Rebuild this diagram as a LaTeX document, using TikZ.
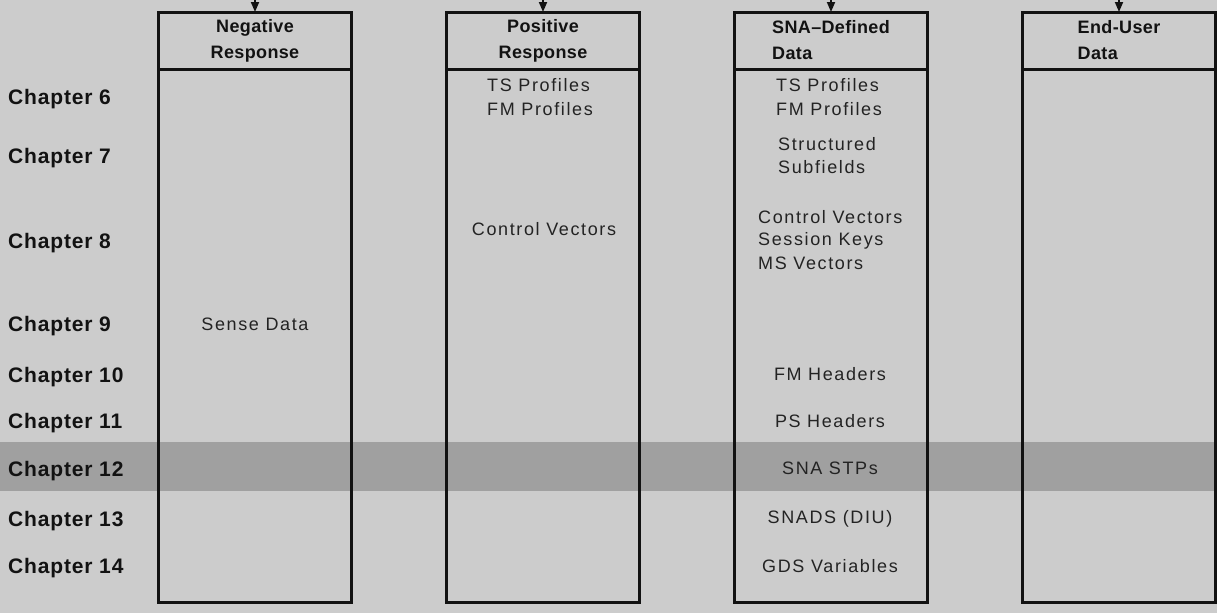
\documentclass[tikz,border=0pt]{standalone}
\usepackage{fontspec}
\setmainfont{Liberation Sans}[LetterSpace=2]
\newfontfamily\chapfont{Liberation Sans}[LetterSpace=4]
\newfontfamily\itemfont{Liberation Sans}[LetterSpace=9]
\usepackage{tikz}
\usetikzlibrary{arrows.meta, positioning}
\definecolor{paper}{RGB}{204,204,204}
\definecolor{band}{RGB}{160,160,160}
\definecolor{ink}{RGB}{18,18,18}
\definecolor{inkitem}{RGB}{35,35,35}
\tikzset{
  hdrbox/.style    = {draw=ink, line width=3pt, outer sep=0pt, inner sep=0pt,
                      minimum width=193pt, minimum height=57pt, align=center,
                      text=ink, font=\bfseries\fontsize{18}{26}\selectfont},
  bodybox/.style   = {draw=ink, line width=3pt, outer sep=0pt,
                      minimum width=193pt, minimum height=533pt},
  chaplabel/.style = {anchor=base west, inner sep=0pt, text=ink,
                      font=\chapfont\bfseries\fontsize{21}{25}\selectfont},
  itemtext/.style  = {anchor=base, inner sep=0pt, text=inkitem,
                      font=\itemfont\fontsize{18}{24}\selectfont},
  itemleft/.style  = {itemtext, anchor=base west},
  feed/.style      = {-{Triangle[width=8pt,length=10pt]}, line width=1.8pt, draw=ink},
}

\begin{document}
\begin{tikzpicture}[x=1pt, y=-1pt]
    \useasboundingbox (0,0) rectangle (1217,613);
    \fill[paper] (0,0) rectangle (1217,613);
    \fill[band] (0,442) rectangle (1217,491);
    % column heads
    \node[hdrbox, anchor=north] (negH) at (255,12) {Negative\\Response};
    \node[hdrbox, right=95pt of negH] (posH) {Positive\\Response};
    \node[hdrbox, right=95pt of posH, align=left] (snaH) {SNA--Defined\\Data};
    \node[hdrbox, right=95pt of snaH, align=left] (usrH) {End-User\\Data};
    % column bodies
    \node[bodybox, below=0pt of negH] (negB) {};
    \node[bodybox, below=0pt of posH] (posB) {};
    \node[bodybox, below=0pt of snaH] (snaB) {};
    \node[bodybox, below=0pt of usrH] (usrB) {};
    % feeds from above
    \coordinate (top) at (0,0);
    \coordinate (negIn) at (negH.north |- top);
    \coordinate (posIn) at (posH.north |- top);
    \coordinate (snaIn) at (snaH.north |- top);
    \coordinate (usrIn) at (usrH.north |- top);
    \draw[feed] (negIn) -- (negH.north);
    \draw[feed] (posIn) -- (posH.north);
    \draw[feed] (snaIn) -- (snaH.north);
    \draw[feed] (usrIn) -- (usrH.north);
    % chapters
    \node[chaplabel] (ch6) at (8,104) {Chapter 6};
    \node[chaplabel] (ch7) at (8,163) {Chapter 7};
    \node[chaplabel] (ch8) at (8,248) {Chapter 8};
    \node[chaplabel] (ch9) at (8,331) {Chapter 9};
    \node[chaplabel] (ch10) at (8,382) {Chapter 10};
    \node[chaplabel] (ch11) at (8,428) {Chapter 11};
    \node[chaplabel] (ch12) at (8,476) {Chapter 12};
    \node[chaplabel] (ch13) at (8,526) {Chapter 13};
    \node[chaplabel] (ch14) at (8,573) {Chapter 14};
    % negative response
    \node[itemtext] (negSD) at (255,330) {Sense Data};
    % positive response
    \node[itemleft] (posTS) at (487,91) {TS Profiles};
    \node[itemleft] (posFM) at (487,115) {FM Profiles};
    \node[itemtext] (posCV) at (544,235) {Control Vectors};
    % SNA-defined data
    \node[itemleft] (snaTS) at (776,91) {TS Profiles};
    \node[itemleft] (snaFM) at (776,115) {FM Profiles};
    \node[itemleft] (snaST) at (778,150) {Structured};
    \node[itemleft] (snaSF) at (778,173) {Subfields};
    \node[itemleft] (snaCV) at (758,223) {Control Vectors};
    \node[itemleft] (snaSK) at (758,245) {Session Keys};
    \node[itemleft] (snaMS) at (758,269) {MS Vectors};
    \node[itemtext] (snaFH) at (830,380) {FM Headers};
    \node[itemtext] (snaPH) at (830,427) {PS Headers};
    \node[itemtext] (snaSTP) at (830,474) {SNA STPs};
    \node[itemtext] (snaDIU) at (830,523) {SNADS (DIU)};
    \node[itemtext] (snaGDS) at (830,572) {GDS Variables};
\end{tikzpicture}
\end{document}
